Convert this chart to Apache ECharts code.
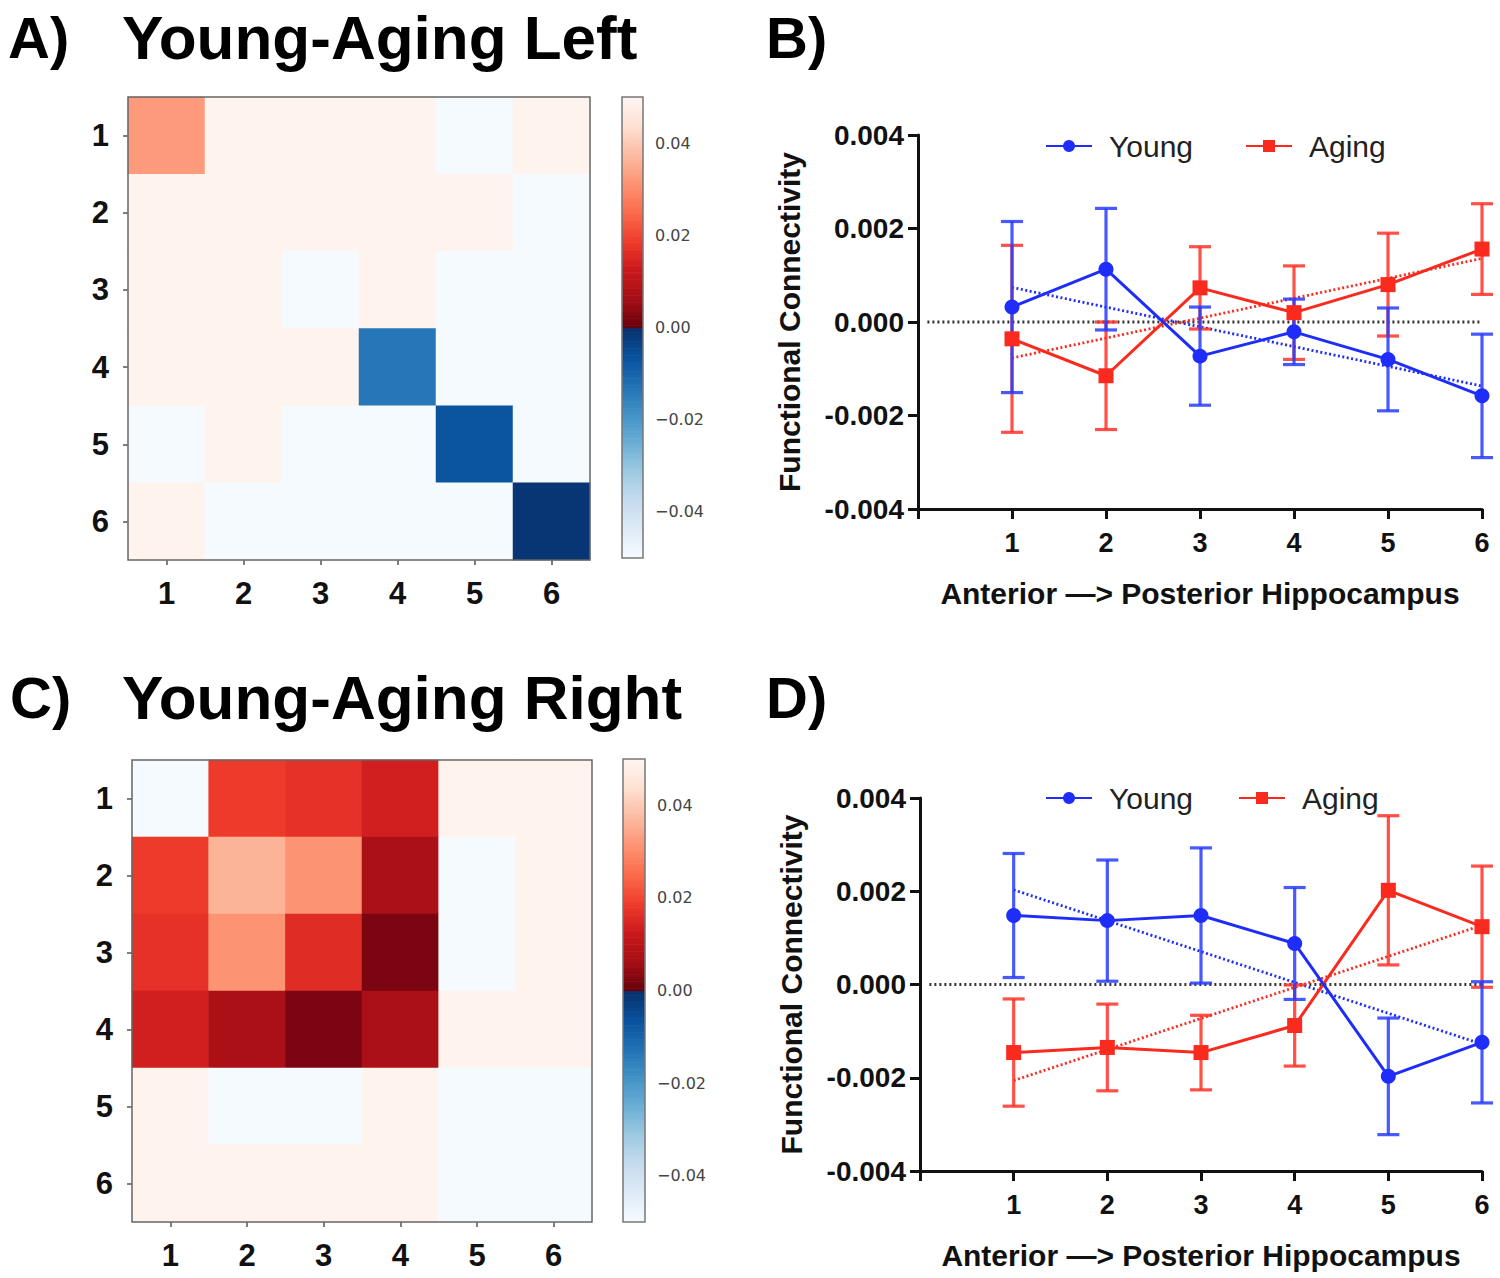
<!DOCTYPE html>
<html><head><meta charset="utf-8">
<script src="https://cdn.jsdelivr.net/npm/echarts@6/dist/echarts.min.js"></script>
<style>html,body{margin:0;padding:0;background:#fff}#c{width:1500px;height:1278px}</style>
</head><body><div id="c"></div>
<script>
// ---------- DATA ----------
const matrixLabels = ['1','2','3','4','5','6'];
const leftMatrix = [
  [0.0325, 0.0495, 0.0495, 0.0495, -0.0495, 0.0495],
  [0.0495, 0.0495, 0.0495, 0.0495, 0.0495, -0.0495],
  [0.0495, 0.0495, -0.0495, 0.0495, -0.0495, -0.0495],
  [0.0495, 0.0495, 0.0495, -0.0135, -0.0495, -0.0495],
  [-0.0495, 0.0495, -0.0495, -0.0495, -0.007, -0.0495],
  [0.0495, -0.0495, -0.0495, -0.0495, -0.0495, -0.001]
];
const rightMatrix = [
  [-0.0495, 0.0185, 0.017, 0.0135, 0.0495, 0.0495],
  [0.0185, 0.0365, 0.0315, 0.007, -0.0495, 0.0495],
  [0.017, 0.0315, 0.016, 0.002, -0.0495, 0.0495],
  [0.0135, 0.007, 0.002, 0.007, 0.0495, 0.0495],
  [0.0495, -0.0495, -0.0495, 0.0495, -0.0495, -0.0495],
  [0.0495, 0.0495, 0.0495, 0.0495, -0.0495, -0.0495]
];
const colorbarTicks = [-0.04, -0.02, 0, 0.02, 0.04];
const segments = [1, 2, 3, 4, 5, 6];

const youngLeftMean = [0.00032, 0.00113, -0.00073, -0.00021, -0.0008, -0.00158];
const youngLeftSem  = [0.00183, 0.0013, 0.00105, 0.0007, 0.0011, 0.00132];
const agingLeftMean = [-0.00036, -0.00115, 0.00073, 0.0002, 0.0008, 0.00156];
const agingLeftSem  = [0.002, 0.00115, 0.00088, 0.001, 0.0011, 0.00097];
const youngLeftTrend = [0.00074, -0.00137];   // fitted line at segment 1 and 6
const agingLeftTrend = [-0.00077, 0.00136];

const youngRightMean = [0.00148, 0.00137, 0.00148, 0.00088, -0.00197, -0.00124];
const youngRightSem  = [0.00133, 0.0013, 0.00145, 0.0012, 0.00125, 0.0013];
const agingRightMean = [-0.00146, -0.00135, -0.00146, -0.00088, 0.00202, 0.00124];
const agingRightSem  = [0.00115, 0.00093, 0.0008, 0.00087, 0.0016, 0.0013];
const youngRightTrend = [0.00203, -0.00128];
const agingRightTrend = [-0.00206, 0.00127];

// ---------- STYLE ----------
const FONT = 'Liberation Sans, Arial, Helvetica, sans-serif';
const BLUE = '#1f2dfa', RED = '#fa2a1e';
const BLUE_E = 'rgba(40,60,255,0.85)', RED_E = 'rgba(255,50,40,0.85)';
const BLUES = ['#f7fbff','#deebf7','#c6dbef','#9ecae1','#6baed6','#4292c6','#2171b5','#08519c','#08306b'];
const REDS  = ['#fff5f0','#fee0d2','#fcbba1','#fc9272','#fb6a4a','#ef3b2c','#cb181d','#a50f15','#67000d'];
function hex2rgb(h){return [parseInt(h.substr(1,2),16),parseInt(h.substr(3,2),16),parseInt(h.substr(5,2),16)];}
function lerpStops(stops,t){
  t=Math.max(0,Math.min(1,t));
  const p=t*(stops.length-1), i=Math.min(Math.floor(p),stops.length-2), f=p-i;
  const a=hex2rgb(stops[i]), b=hex2rgb(stops[i+1]);
  return 'rgb('+a.map((v,k)=>Math.round(v+(b[k]-v)*f)).join(',')+')';
}
function cmap(v){ return v<0 ? lerpStops(BLUES,(v+0.05)/0.05) : lerpStops(REDS,1-v/0.05); }

const chart = echarts.init(document.getElementById('c'), null, {renderer:'svg'});

const grids = [
  {left:128, top:97, width:462, height:463, show:true, borderColor:'#666', borderWidth:1.5, z:10},
  {left:622, top:97, width:21, height:461, show:true, borderColor:'#777', borderWidth:1.5, z:10},
  {left:918, top:135, width:564, height:374},
  {left:132, top:760, width:460, height:462, show:true, borderColor:'#666', borderWidth:1.5, z:10},
  {left:623, top:759, width:22, height:463, show:true, borderColor:'#777', borderWidth:1.5, z:10},
  {left:920, top:798, width:562, height:373}
];

const xAxes = [], yAxes = [], series = [];

function heatAxes(gi){
  xAxes.push({gridIndex:gi, type:'category', data:matrixLabels, position:'bottom',
    axisLine:{show:false}, axisTick:{show:true, alignWithLabel:true, length:5, lineStyle:{color:'#555', width:1.5}},
    axisLabel:{fontFamily:FONT, fontWeight:'bold', fontSize:31, color:'#111', margin:18}, splitLine:{show:false}});
  yAxes.push({gridIndex:gi, type:'category', data:matrixLabels, inverse:true,
    axisLine:{show:false}, axisTick:{show:true, alignWithLabel:true, length:5, lineStyle:{color:'#555', width:1.5}},
    axisLabel:{fontFamily:FONT, fontWeight:'bold', fontSize:31, color:'#111', margin:19}, splitLine:{show:false}});
}
function heatSeries(idx, mat){
  const data=[];
  mat.forEach((row,r)=>row.forEach((v,c)=>data.push({value:[c,r,v], itemStyle:{color:cmap(v)}})));
  series.push({type:'heatmap', xAxisIndex:idx, yAxisIndex:idx, data:data, itemStyle:{borderWidth:0}, emphasis:{disabled:true}});
}
function cbAxes(gi){
  xAxes.push({gridIndex:gi, type:'value', min:0, max:1, show:false});
  yAxes.push({gridIndex:gi, type:'value', min:-0.05, max:0.05, position:'right',
    axisLine:{show:false}, splitLine:{show:false},
    axisTick:{show:true, customValues:colorbarTicks, length:5, lineStyle:{color:'#555', width:1.2}},
    axisLabel:{customValues:colorbarTicks, fontFamily:'DejaVu Sans, sans-serif', fontSize:16, color:'#444', margin:12,
      formatter:v=> (v<0?'\u2212':'')+Math.abs(v).toFixed(2)}});
}
function cbSeries(idx){
  const data=[];
  for(let i=0;i<200;i++){const v0=-0.05+i*0.0005; data.push([v0, v0+0.0005]);}
  series.push({type:'custom', xAxisIndex:idx, yAxisIndex:idx, silent:true, data:data,
    renderItem:(p,api)=>{
      const v0=api.value(0), v1=api.value(1);
      const a=api.coord([0,v1]), b=api.coord([1,v0]);
      return {type:'rect', shape:{x:a[0], y:a[1], width:b[0]-a[0], height:b[1]-a[1]+0.6},
        style:{fill:cmap((v0+v1)/2)}};
    }});
}
function lineAxes(gi){
  const axisStyle={color:'#111', width:3};
  xAxes.push({gridIndex:gi, type:'value', min:0, max:6, interval:1,
    axisLine:{show:true, onZero:false, lineStyle:axisStyle},
    axisTick:{show:true, length:10, lineStyle:axisStyle},
    axisLabel:{fontFamily:FONT, fontWeight:'bold', fontSize:27, color:'#111', margin:20, formatter:v=> v===0?'':String(v)},
    splitLine:{show:false},
    name:'Anterior \u2014> Posterior Hippocampus', nameLocation:'middle', nameGap:69,
    nameTextStyle:{fontFamily:FONT, fontWeight:'bold', fontSize:30, color:'#111'}});
  yAxes.push({gridIndex:gi, type:'value', min:-0.004, max:0.004, interval:0.002,
    axisLine:{show:true, onZero:false, lineStyle:axisStyle},
    axisTick:{show:true, length:10, lineStyle:axisStyle},
    axisLabel:{fontFamily:FONT, fontWeight:'bold', fontSize:28, color:'#111', margin:14, formatter:v=>v.toFixed(3)},
    splitLine:{show:false},
    name:'Functional Connectivity', nameLocation:'middle', nameGap:114, nameRotate:90,
    nameTextStyle:{fontFamily:FONT, fontWeight:'bold', fontSize:30, color:'#111'}});
}
function errRender(color){
  return function(p, api){
    const x=api.value(0), lo=api.value(1), hi=api.value(2);
    const a=api.coord([x,lo]), b=api.coord([x,hi]); const hw=11;
    const st={stroke:color, lineWidth:3.2};
    return {type:'group', children:[
      {type:'line', shape:{x1:a[0],y1:a[1],x2:b[0],y2:b[1]}, style:st},
      {type:'line', shape:{x1:a[0]-hw,y1:a[1],x2:a[0]+hw,y2:a[1]}, style:st},
      {type:'line', shape:{x1:b[0]-hw,y1:b[1],x2:b[0]+hw,y2:b[1]}, style:st}
    ]};
  };
}
function lineSeries(idx, yM, yS, aM, aS, yT, aT){
  const base={xAxisIndex:idx, yAxisIndex:idx, silent:true, animation:false};
  series.push(Object.assign({type:'line', data:[[0.1,0],[6,0]], symbol:'none', z:1,
    lineStyle:{color:'#333', width:3, type:[2,3]}}, base));
  series.push(Object.assign({type:'line', data:[[1,yT[0]],[6,yT[1]]], symbol:'none', z:2,
    lineStyle:{color:BLUE, width:2.8, type:[2,2.5]}}, base));
  series.push(Object.assign({type:'line', data:[[1,aT[0]],[6,aT[1]]], symbol:'none', z:2,
    lineStyle:{color:RED, width:2.8, type:[2,2.5]}}, base));
  series.push(Object.assign({type:'custom', renderItem:errRender(RED_E), encode:{x:0,y:[1,2]}, z:3,
    data:segments.map((s,i)=>[s, aM[i]-aS[i], aM[i]+aS[i]])}, base));
  series.push(Object.assign({type:'custom', renderItem:errRender(BLUE_E), encode:{x:0,y:[1,2]}, z:3,
    data:segments.map((s,i)=>[s, yM[i]-yS[i], yM[i]+yS[i]])}, base));
  series.push(Object.assign({type:'line', name:'Aging', data:segments.map((s,i)=>[s,aM[i]]), z:4,
    symbol:'rect', symbolSize:15, itemStyle:{color:RED}, lineStyle:{color:RED, width:3}}, base));
  series.push(Object.assign({type:'line', name:'Young', data:segments.map((s,i)=>[s,yM[i]]), z:5,
    symbol:'circle', symbolSize:15, itemStyle:{color:BLUE}, lineStyle:{color:BLUE, width:3}}, base));
}

heatAxes(0); heatSeries(0, leftMatrix);
cbAxes(1); cbSeries(1);
lineAxes(2); lineSeries(2, youngLeftMean, youngLeftSem, agingLeftMean, agingLeftSem, youngLeftTrend, agingLeftTrend);
heatAxes(3); heatSeries(3, rightMatrix);
cbAxes(4); cbSeries(4);
lineAxes(5); lineSeries(5, youngRightMean, youngRightSem, agingRightMean, agingRightSem, youngRightTrend, agingRightTrend);

function legendAt(left, top, gap){
  return {data:['Young','Aging'], orient:'horizontal', left:left, top:top, padding:0, itemWidth:46, itemHeight:15, itemGap:gap,
    textStyle:{fontFamily:FONT, fontSize:30, color:'#222', padding:[0,0,0,12]}, selectedMode:false};
}

function titleText(x,y,t,size){
  return {type:'text', x:x, y:y, style:{text:t, font:'bold '+size+'px '+FONT, fill:'#000', textVerticalAlign:'middle'}};
}

chart.setOption({
  animation:false,
  backgroundColor:'#fff',
  grid:grids, xAxis:xAxes, yAxis:yAxes, series:series,
  legend:[legendAt(1045, 131, 52), legendAt(1045, 783, 45)],
  graphic:[
    titleText(8,37,'A)',58), titleText(122,37,'Young-Aging Left',62),
    titleText(766,37,'B)',58),
    titleText(10,697,'C)',58), titleText(122,697,'Young-Aging Right',62),
    titleText(766,697,'D)',58)
  ]
});
</script></body></html>
